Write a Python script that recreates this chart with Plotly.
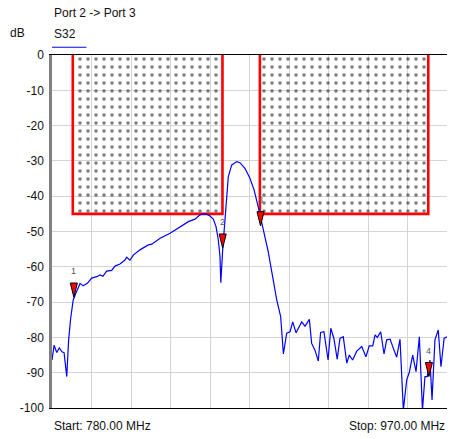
import plotly.graph_objects as go

# ---- data ----
freq_mhz = [780.0, 781.0, 782.3, 783.5, 784.8, 785.8, 787.1, 788.0, 789.0, 790.2,
            791.5, 793.5, 795.0, 797.0, 799.1, 801.5, 803.1, 804.5, 806.3, 808.7,
            810.3, 812.7, 815.1, 815.9, 817.5, 819.1, 822.3, 826.3, 828.0, 832.0,
            836.8, 841.6, 844.0, 845.6, 848.8, 851.2, 852.8, 854.4, 856.0, 857.6,
            858.9, 860.0, 860.8, 861.2, 862.1, 863.2, 864.0, 864.8, 866.4, 868.8,
            870.4, 872.8, 875.2, 877.2, 879.2, 880.9, 882.5, 884.0, 886.4, 888.1,
            890.0, 891.3, 892.9, 894.5, 895.8, 897.4, 900.1, 901.7, 903.8, 904.9,
            906.5, 908.1, 909.2, 910.8, 912.8, 914.1, 915.6, 917.2, 918.5, 920.1,
            921.8, 923.0, 924.6, 926.6, 929.0, 931.0, 932.6, 934.3, 935.4, 936.5,
            938.1, 939.7, 941.0, 942.6, 944.2, 945.8, 947.4, 949.0, 950.6, 951.9,
            953.5, 955.1, 956.7, 958.2, 959.4, 960.5, 961.8, 962.8, 964.2, 965.8,
            967.1, 968.6, 970.0]
s32_db = [-86.4, -82.2, -84.3, -83.0, -84.1, -84.3, -91.1, -80.7, -74.5, -69.4,
          -67.4, -64.7, -65.4, -64.7, -63.2, -62.8, -62.3, -62.7, -61.2, -61.0,
          -59.8, -59.2, -58.1, -57.3, -58.1, -56.7, -55.2, -53.8, -53.6, -51.9,
          -50.5, -48.6, -47.7, -47.2, -46.5, -45.3, -45.0, -45.1, -45.6, -46.5,
          -48.6, -52.4, -57.1, -64.5, -55.2, -45.8, -39.2, -34.5, -31.2, -30.2,
          -30.5, -32.1, -34.9, -38.2, -43.0, -47.7, -52.4, -55.7, -63.7, -69.4,
          -74.1, -84.7, -78.8, -78.4, -75.6, -78.7, -75.6, -76.8, -74.9, -81.7,
          -83.6, -86.7, -78.6, -78.4, -86.4, -77.4, -80.3, -86.2, -80.3, -79.8,
          -87.3, -85.0, -86.4, -83.9, -82.6, -85.5, -82.4, -82.4, -79.3, -80.0,
          -78.4, -84.7, -80.7, -80.5, -83.1, -85.6, -80.5, -100.6, -92.1, -89.8,
          -85.0, -89.7, -79.8, -100.6, -91.1, -91.1, -86.4, -97.7, -80.7, -77.9,
          -88.3, -80.3, -79.8]

# limit mask (stop bands)
mask_start_mhz = [790.0, 880.0]
mask_stop_mhz = [862.0, 961.0]
mask_top_db = 0.0
mask_limit_db = -45.0

# markers
marker_labels = ["1", "2", "3", "4"]
marker_freq_mhz = [790.5, 862.1, 880.3, 961.3]
marker_db = [-68.6, -54.7, -48.4, -91.1]

x_start, x_stop = 780.0, 970.0
y_min, y_max = -100.0, 0.0
y_ticks = [0, -10, -20, -30, -40, -50, -60, -70, -80, -90, -100]
x_grid_step = 19.0

# ---- figure ----
FONT = "Liberation Sans, Arial, sans-serif"
fig = go.Figure()

# patterned mask fill
mx, my = [], []
for a, b in zip(mask_start_mhz, mask_stop_mhz):
    mx += [a, a, b, b, a, None]
    my += [mask_top_db, mask_limit_db, mask_limit_db, mask_top_db, mask_top_db, None]
fig.add_trace(go.Scatter(
    x=mx, y=my, mode="lines", fill="toself", line=dict(width=0),
    fillcolor="rgba(0,0,0,0)",
    fillpattern=dict(shape=".", fgcolor="#000000", bgcolor="rgba(0,0,0,0)",
                     size=8, solidity=0.16, fillmode="overlay"),
    hoverinfo="skip", showlegend=False))

# red three-sided outlines
rx, ry = [], []
for a, b in zip(mask_start_mhz, mask_stop_mhz):
    rx += [a, a, b, b, None]
    ry += [mask_top_db, mask_limit_db, mask_limit_db, mask_top_db, None]
fig.add_trace(go.Scatter(x=rx, y=ry, mode="lines",
                         line=dict(color="#ff0000", width=2.6),
                         hoverinfo="skip", showlegend=False))

# trace
fig.add_trace(go.Scatter(x=freq_mhz, y=s32_db, mode="lines",
                         line=dict(color="#0000ff", width=1.2),
                         showlegend=False))

# marker triangles (tip on trace), tall narrow shape
half_w = 1.7   # MHz
tri_h = 4.0    # dB
tx, ty = [], []
for f, d in zip(marker_freq_mhz, marker_db):
    tx += [f, f - half_w, f + half_w, f, None]
    ty += [d, d + tri_h, d + tri_h, d, None]
fig.add_trace(go.Scatter(x=tx, y=ty, mode="lines", fill="toself",
                         fillcolor="#ff0000", line=dict(color="#000000", width=1),
                         hoverinfo="skip", showlegend=False))

for lab, f, d in zip(marker_labels, marker_freq_mhz, marker_db):
    fig.add_annotation(x=f, y=d, text=lab, showarrow=False, yshift=26,
                       font=dict(family=FONT, size=9, color="#555555"))

grid_vals = []
g = x_start
while g <= x_stop + 1e-6:
    grid_vals.append(g)
    g += x_grid_step

fig.update_layout(
    width=451, height=439,
    margin=dict(l=52, r=4, t=55, b=31, autoexpand=False),
    paper_bgcolor="white", plot_bgcolor="white",
    font=dict(family=FONT, size=12, color="#111111"),
    xaxis=dict(range=[x_start, x_stop], showticklabels=False, ticks="",
               tickvals=grid_vals, showgrid=True, gridcolor="#d4d4d4", gridwidth=1,
               zeroline=False, showline=True, linecolor="#000000", linewidth=1,
               mirror=True, fixedrange=True),
    yaxis=dict(range=[y_min, y_max], tickvals=y_ticks,
               ticktext=[str(v) for v in y_ticks],
               ticks="outside", ticklen=3, tickcolor="rgba(0,0,0,0)",
               showgrid=True, gridcolor="#d4d4d4", gridwidth=1, zeroline=False,
               showline=True, linecolor="#808080", linewidth=2.5,
               tickfont=dict(family=FONT, size=12, color="#111111"),
               fixedrange=True),
)

# header texts
fig.add_annotation(xref="paper", yref="paper", x=0, y=1, xanchor="left", yanchor="bottom",
                   yshift=33, text="Port 2 -> Port 3", showarrow=False,
                   font=dict(family=FONT, size=12, color="#111111"))
fig.add_annotation(xref="paper", yref="paper", x=0, y=1, xanchor="left", yanchor="bottom",
                   yshift=12, text="S32", showarrow=False,
                   font=dict(family=FONT, size=12, color="#111111"))
fig.add_annotation(xref="paper", yref="paper", x=0, y=1, xanchor="left", yanchor="bottom",
                   xshift=-44, yshift=13, text="dB", showarrow=False,
                   font=dict(family=FONT, size=12, color="#111111"))
fig.add_shape(type="line", xref="paper", yref="paper", x0=0, x1=0.087, y0=1.022, y1=1.022,
              line=dict(color="#0000ff", width=1.2))

# footer texts
fig.add_annotation(xref="paper", yref="paper", x=0, y=0, xanchor="left", yanchor="top",
                   yshift=-9, text="Start: 780.00 MHz", showarrow=False,
                   font=dict(family=FONT, size=12, color="#111111"))
fig.add_annotation(xref="paper", yref="paper", x=1, y=0, xanchor="right", yanchor="top",
                   yshift=-9, text="Stop: 970.00 MHz", showarrow=False,
                   font=dict(family=FONT, size=12, color="#111111"))

fig.write_html("out.html", config={"displayModeBar": False},
               post_script="document.body.style.margin='0';")
